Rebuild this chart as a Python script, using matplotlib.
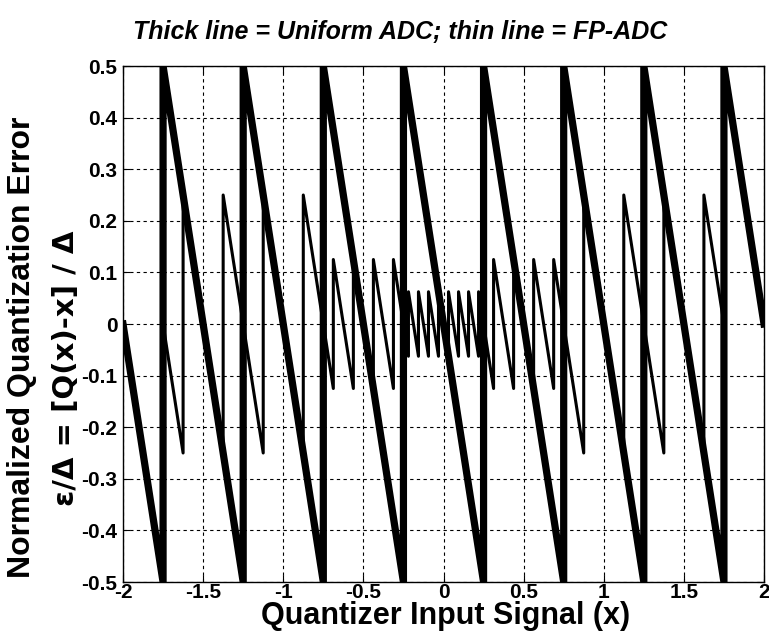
import matplotlib
matplotlib.use('Agg')
import matplotlib.pyplot as plt

plt.rcParams['font.family'] = ['Liberation Sans', 'DejaVu Sans']

# Uniform ADC normalized error (thick line): sawtooth vertices
uni_x = [-2.0, -1.75, -1.75, -1.25, -1.25, -0.75, -0.75, -0.25, -0.25,
         0.25, 0.25, 0.75, 0.75, 1.25, 1.25, 1.75, 1.75, 2.0]
uni_y = [0.0, -0.5, 0.5, -0.5, 0.5, -0.5, 0.5, -0.5, 0.5,
         -0.5, 0.5, -0.5, 0.5, -0.5, 0.5, -0.5, 0.5, 0.0]

# FP-ADC normalized error (thin line): sawtooth vertices
fp_x = [-2.0, -1.75, -1.75, -1.625, -1.625, -1.375, -1.375, -1.125, -1.125,
        -0.875, -0.875, -0.6875, -0.6875, -0.5625, -0.5625, -0.4375, -0.4375,
        -0.3125, -0.3125, -0.21875, -0.21875, -0.15625, -0.15625, -0.09375,
        -0.09375, -0.03125, -0.03125, 0.03125, 0.03125, 0.09375, 0.09375,
        0.15625, 0.15625, 0.21875, 0.21875, 0.3125, 0.3125, 0.4375, 0.4375,
        0.5625, 0.5625, 0.6875, 0.6875, 0.875, 0.875, 1.125, 1.125, 1.375,
        1.375, 1.625, 1.625, 1.75, 1.75, 2.0]
fp_y = [0.0, -0.5, 0.0, -0.25, 0.25, -0.25, 0.25, -0.25, 0.25,
        -0.25, 0.25, -0.125, 0.125, -0.125, 0.125, -0.125, 0.125,
        -0.125, 0.125, -0.0625, 0.0625, -0.0625, 0.0625, -0.0625,
        0.0625, -0.0625, 0.0625, -0.0625, 0.0625, -0.0625, 0.0625,
        -0.0625, 0.0625, -0.0625, 0.0625, -0.125, 0.125, -0.125, 0.125,
        -0.125, 0.125, -0.125, 0.125, -0.25, 0.25, -0.25, 0.25, -0.25,
        0.25, -0.25, 0.25, 0.0, 0.5, 0.0]

x_ticks = [-2, -1.5, -1, -0.5, 0, 0.5, 1, 1.5, 2]
x_labels = ['-2', '-1.5', '-1', '-0.5', '0', '0.5', '1', '1.5', '2']
y_ticks = [-0.5, -0.4, -0.3, -0.2, -0.1, 0, 0.1, 0.2, 0.3, 0.4, 0.5]
y_labels = ['-0.5', '-0.4', '-0.3', '-0.2', '-0.1', '0', '0.1', '0.2', '0.3', '0.4', '0.5']

W, H = 769, 632
fig = plt.figure(figsize=(W / 100, H / 100), dpi=100)
ax = fig.add_axes([123 / W, 1 - 582 / H, (764 - 123) / W, (582 - 66) / H])

ax.plot(fp_x, fp_y, color='k', lw=2.2)
ax.plot(uni_x, uni_y, color='k', lw=5.2)

ax.set_xlim(-2, 2)
ax.set_ylim(-0.5, 0.5)
ax.set_xticks(x_ticks)
ax.set_xticklabels(x_labels)
ax.set_yticks(y_ticks)
ax.set_yticklabels(y_labels)
ax.tick_params(direction='in', length=5, width=0.8, top=True, right=True,
               labelsize=15)
ax.tick_params(axis='x', pad=1)
ax.tick_params(axis='y', pad=4)
for lab in ax.get_xticklabels() + ax.get_yticklabels():
    lab.set_fontweight('bold')
ax.grid(True, color='k', linestyle=(0, (3, 3)), linewidth=0.8)
for sp in ax.spines.values():
    sp.set_linewidth(1.0)

# labels and title placed like the original
fig.text(400 / W, 1 - 32 / H, 'Thick line = Uniform ADC; thin line = FP-ADC',
         ha='center', va='center', fontsize=18, fontweight='bold', style='italic')
fig.text(446 / W, 1 - 624 / H, 'Quantizer Input Signal (x)',
         ha='center', va='baseline', fontsize=22, fontweight='bold')
fig.text(22 / W, 1 - 347 / H, 'Normalized Quantization Error',
         ha='center', va='center', rotation=90, fontsize=23, fontweight='bold')
fig.text(66 / W, 1 - 368 / H, '\u03b5/\u0394 = [Q(x)-x] / \u0394',
         ha='center', va='center', rotation=90, fontsize=21, fontweight='bold',
         family=['DejaVu Sans'])

fig.savefig('out.png', dpi=100)
